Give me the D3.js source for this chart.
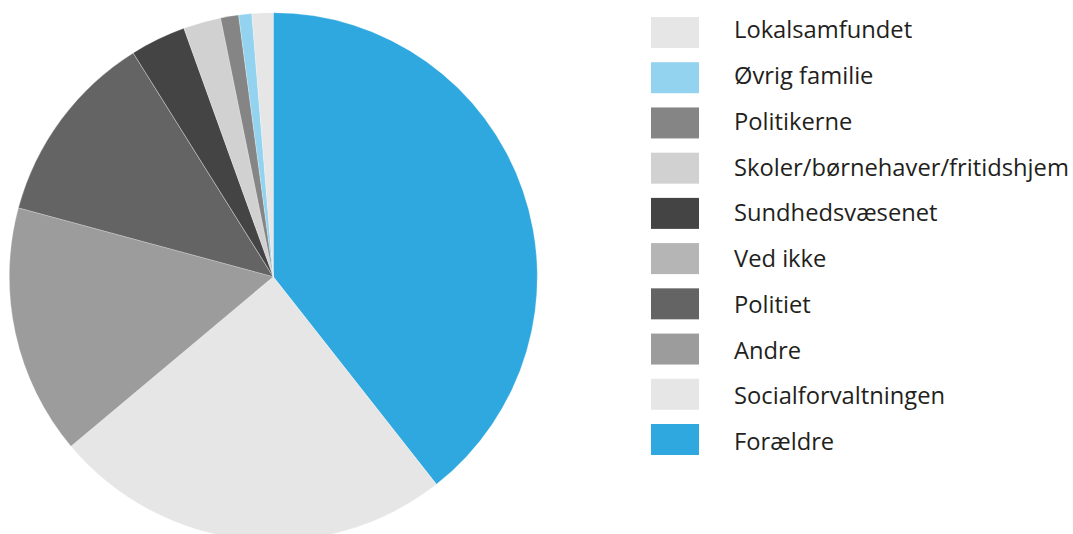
<!DOCTYPE html>
<html>
<head>
<meta charset="utf-8">
<title>Pie</title>
<script src="https://d3js.org/d3.v7.min.js"></script>
<style>
  body { margin: 0; background: #fff; }
  text { font-family: "Open Sans", sans-serif; fill: #231f20; }
</style>
</head>
<body>
<svg id="chart" width="1073" height="534"></svg>
<script>
"use strict";

// categories in pie order (clockwise from 12 o'clock)
const categories = ["Forældre", "Socialforvaltningen", "Andre", "Politiet", "Ved ikke",
                    "Sundhedsvæsenet", "Skoler/børnehaver/fritidshjem", "Politikerne", "Øvrig familie", "Lokalsamfundet"];
const values = [39.4, 24.5, 15.3, 11.9, 0, 3.4, 2.3, 1.1, 0.8, 1.3];
const colors = ["#2ea8df", "#e6e6e6", "#9c9c9c", "#646464", "#b5b5b5",
                "#444444", "#d1d1d1", "#858585", "#93d3ef", "#e6e6e6"];

const svg = d3.select("#chart");
const cx = 273.3, cy = 276.7, radius = 264;

const data = categories.map((c, i) => ({ name: c, value: values[i], color: colors[i] }));

const pie = d3.pie().value(d => d.value).sort(null);
const arc = d3.arc().innerRadius(0).outerRadius(radius);

svg.append("g")
    .attr("transform", `translate(${cx},${cy})`)
  .selectAll("path")
  .data(pie(data))
  .join("path")
    .attr("d", arc)
    .attr("fill", d => d.data.color)
    .attr("stroke", "#ffffff")
    .attr("stroke-width", 0.4)
    .attr("stroke-opacity", 0.6);

// legend is listed in reverse pie order
const legendData = data.slice().reverse();
const swatchY = d3.scaleLinear().domain([0, 9]).range([17, 424]);
const textY = d3.scaleLinear().domain([0, 9]).range([38.5, 450]);

const legend = svg.append("g");

legend.selectAll("rect")
  .data(legendData)
  .join("rect")
    .attr("x", 651)
    .attr("y", (d, i) => swatchY(i))
    .attr("width", 48)
    .attr("height", 31)
    .attr("fill", d => d.color);

const labels = legend.selectAll("text")
  .data(legendData)
  .join("text")
    .attr("x", 734)
    .attr("y", (d, i) => textY(i))
    .attr("font-size", 24.5)
    .text(d => d.name);

// squeeze text to approximate the narrower original face
const ref = labels.filter(d => d.name === "Skoler/børnehaver/fritidshjem").node();
const scaleX = 335 / ref.getComputedTextLength();
labels.attr("transform", `translate(734,0) scale(${scaleX},1) translate(-734,0)`);
</script>
</body>
</html>
